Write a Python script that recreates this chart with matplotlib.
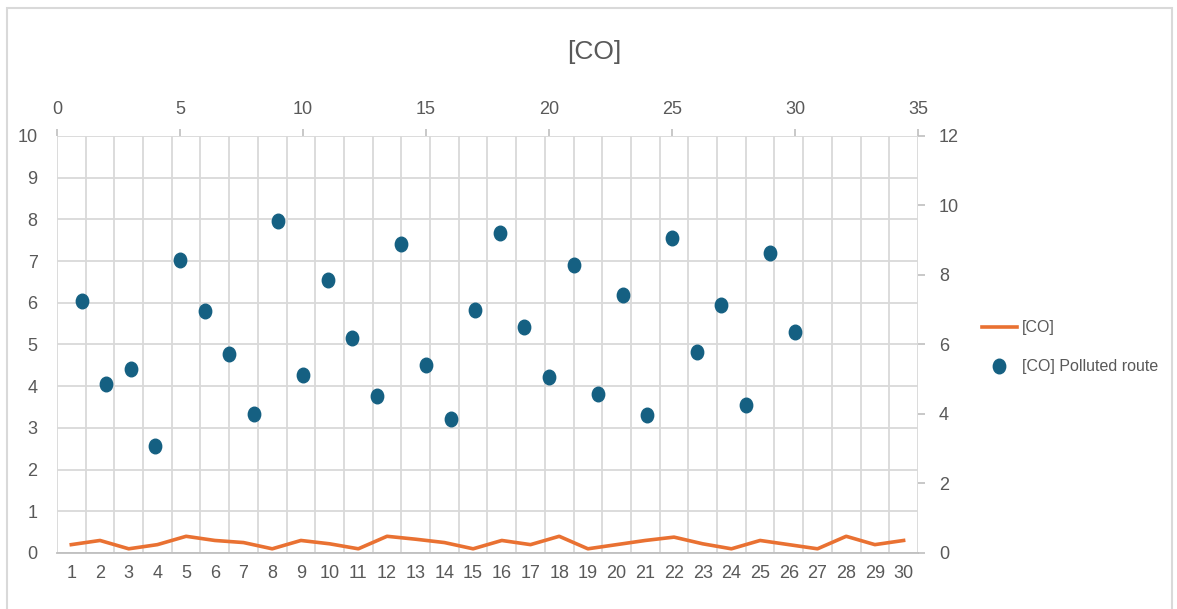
import matplotlib.pyplot as plt
from matplotlib.patches import Rectangle
from matplotlib.path import Path
from matplotlib.transforms import Affine2D

# daily [CO] on the reference route (primary axes, categories 1..30)
days = list(range(1, 31))
co_values = [0.2, 0.3, 0.1, 0.2, 0.4, 0.3, 0.25, 0.1, 0.3, 0.22,
             0.1, 0.4, 0.33, 0.25, 0.1, 0.3, 0.2, 0.4, 0.1, 0.2,
             0.3, 0.38, 0.22, 0.1, 0.3, 0.2, 0.1, 0.4, 0.2, 0.3]

# polluted route samples (secondary axes: top x 0..35, right y 0..12)
polluted_x = list(range(1, 31))
polluted_y = [7.25, 4.86, 5.30, 3.08, 8.43, 6.96, 5.73, 4.00, 9.55, 5.12,
              7.86, 6.19, 4.52, 8.89, 5.41, 3.86, 6.99, 9.21, 6.50, 5.07,
              8.29, 4.58, 7.42, 3.97, 9.07, 5.78, 7.14, 4.26, 8.63, 6.36]

TEXT = "#595959"
GRID = "#D9D9D9"
AXIS = "#BFBFBF"
ORANGE = "#E97132"
BLUE = "#156082"

plt.rcParams["font.family"] = ["Liberation Sans", "DejaVu Sans"]

# slightly tall oval marker
oval = Path.unit_circle().transformed(Affine2D().scale(0.85, 1.0))

fig = plt.figure(figsize=(11.77, 6.09), dpi=100)
fig.patches.append(Rectangle((0.006, -0.01), 0.99, 0.997, transform=fig.transFigure,
                             fill=False, edgecolor="#D9D9D9", linewidth=1.5))

pos = [0.0484, 0.092, 0.7315, 0.6847]
ax = fig.add_axes(pos)
ax.plot(days, co_values, color=ORANGE, linewidth=2.6, label="[CO]", zorder=3)
ax.set_xlim(0.5, 30.5)
ax.set_ylim(0, 10)
ax.set_xticks(days)
ax.set_xticks([d + 0.5 for d in range(0, 31)], minor=True)
ax.set_yticks(range(0, 11))
ax.grid(which="minor", axis="x", color=GRID, linewidth=1.3)
ax.grid(which="major", axis="y", color=GRID, linewidth=1.3)
ax.tick_params(axis="both", which="both", length=0, colors=TEXT, labelsize=13)
ax.tick_params(axis="x", pad=9)
ax.tick_params(axis="y", pad=14)
for side in ("top", "right", "left"):
    ax.spines[side].set_visible(False)
ax.spines["bottom"].set_color(AXIS)
ax.spines["bottom"].set_linewidth(1.3)
ax.set_axisbelow(True)

ax2 = fig.add_axes(pos, frameon=False)
ax2.plot(polluted_x, polluted_y, linestyle="none", marker=oval, markersize=10.5,
         color=BLUE, label="[CO] Polluted route", zorder=4)
ax2.set_xlim(0, 35)
ax2.set_ylim(0, 12)
ax2.set_xticks(range(0, 36, 5))
ax2.set_yticks(range(0, 13, 2))
ax2.xaxis.tick_top()
ax2.yaxis.tick_right()
ax2.tick_params(axis="both", length=5, width=1.2, color=AXIS, colors=TEXT, labelsize=13)
ax2.tick_params(axis="x", pad=8)
ax2.tick_params(axis="y", pad=10)
for side in ("top", "right"):
    ax2.spines[side].set_visible(True)
    ax2.spines[side].set_color(AXIS)
    ax2.spines[side].set_linewidth(1.3)

fig.text(0.505, 0.915, "[CO]", ha="center", va="center", fontsize=19, color=TEXT)

handles = ax.get_legend_handles_labels()[0] + ax2.get_legend_handles_labels()[0]
labels = ["[CO]", "[CO] Polluted route"]
fig.legend(handles, labels, loc="center left", bbox_to_anchor=(0.822, 0.43),
           frameon=False, fontsize=11.5, labelcolor=TEXT, handlelength=2.2,
           handletextpad=0.3, labelspacing=1.5)

fig.savefig("out.png", dpi=100)
